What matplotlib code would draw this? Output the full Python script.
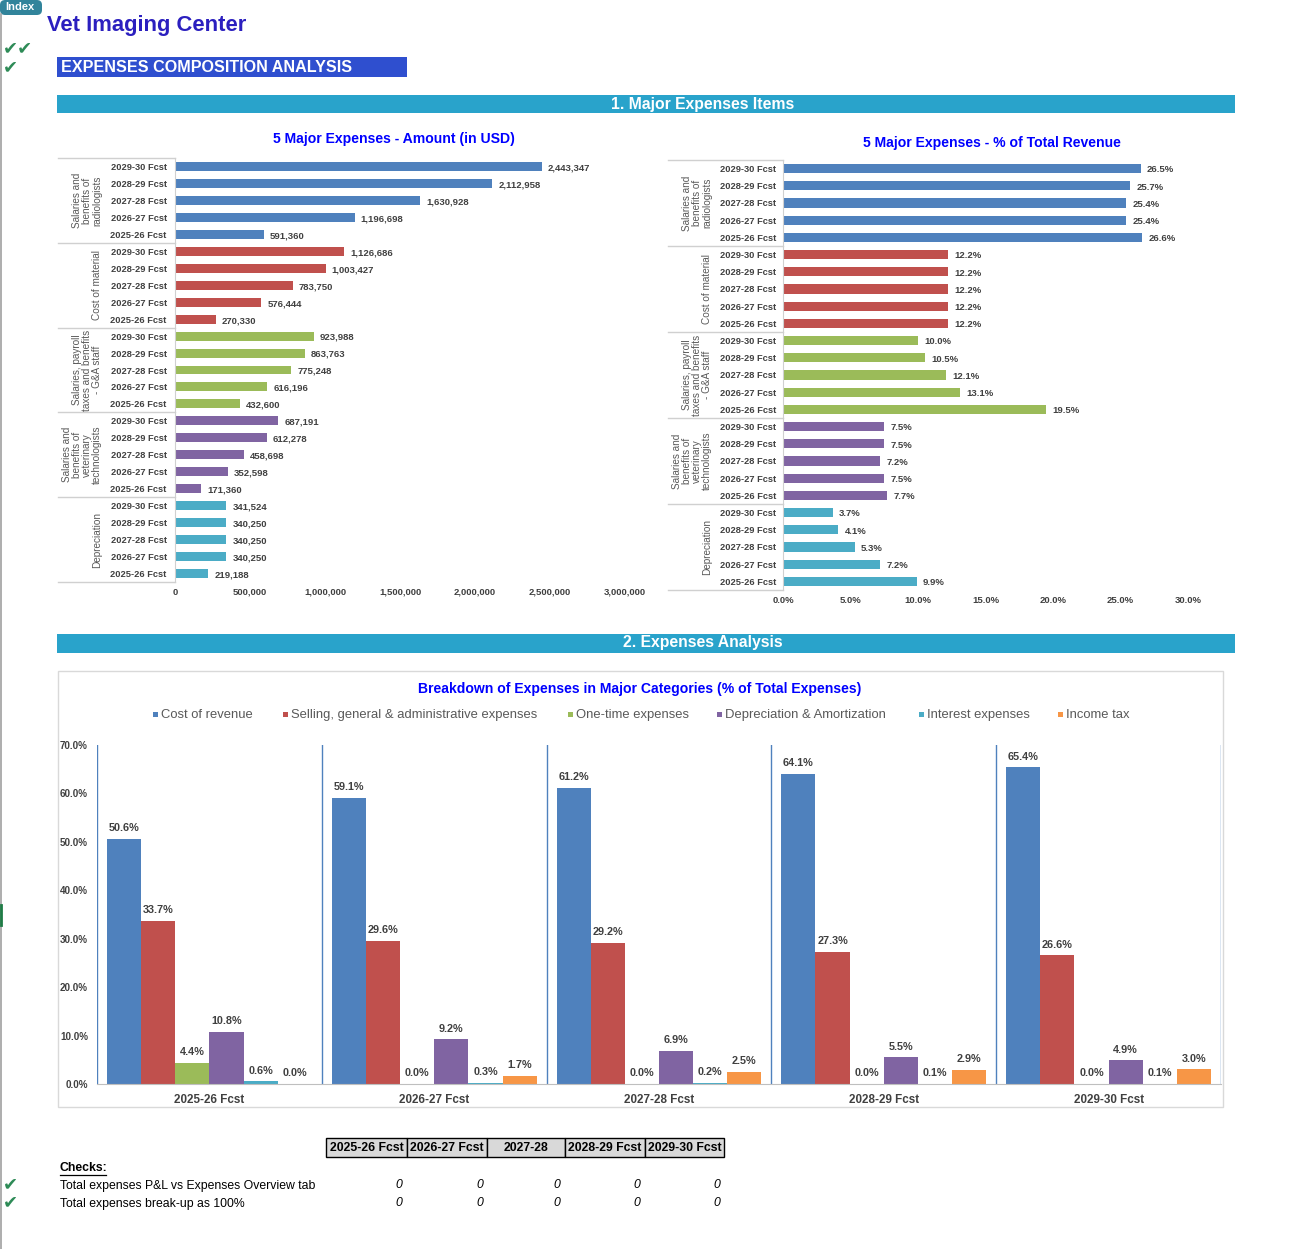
import matplotlib
matplotlib.use("Agg")
import matplotlib.pyplot as plt
from matplotlib.patches import Rectangle, FancyBboxPatch
from matplotlib.lines import Line2D
import matplotlib.transforms as mtransforms

plt.rcParams['font.family'] = ['Liberation Sans', 'DejaVu Sans']

# ---------------- DATA ----------------
years_desc = ["2029-30 Fcst", "2028-29 Fcst", "2027-28 Fcst", "2026-27 Fcst", "2025-26 Fcst"]
groups = ["Salaries and\nbenefits of\nradiologists",
          "Cost of material",
          "Salaries, payroll\ntaxes and benefits\n- G&A staff",
          "Salaries and\nbenefits of\nveterinary\ntechnologists",
          "Depreciation"]
amount_radiologists = [2443347, 2112958, 1630928, 1196698, 591360]
amount_material = [1126686, 1003427, 783750, 576444, 270330]
amount_ga_staff = [923988, 863763, 775248, 616196, 432600]
amount_vet_tech = [687191, 612278, 458698, 352598, 171360]
amount_depreciation = [341524, 340250, 340250, 340250, 219188]

pct_radiologists = [26.5, 25.7, 25.4, 25.4, 26.6]
pct_material = [12.2, 12.2, 12.2, 12.2, 12.2]
pct_ga_staff = [10.0, 10.5, 12.1, 13.1, 19.5]
pct_vet_tech = [7.5, 7.5, 7.2, 7.5, 7.7]
pct_depreciation = [3.7, 4.1, 5.3, 7.2, 9.9]

years_asc = ["2025-26 Fcst", "2026-27 Fcst", "2027-28 Fcst", "2028-29 Fcst", "2029-30 Fcst"]
series_names = ["Cost of revenue", "Selling, general & administrative expenses", "One-time expenses",
                "Depreciation & Amortization", "Interest expenses", "Income tax"]
cost_of_revenue = [50.6, 59.1, 61.2, 64.1, 65.4]
sga = [33.7, 29.6, 29.2, 27.3, 26.6]
one_time = [4.4, 0.0, 0.0, 0.0, 0.0]
dep_amort = [10.8, 9.2, 6.9, 5.5, 4.9]
interest = [0.6, 0.3, 0.2, 0.1, 0.1]
income_tax = [0.0, 1.7, 2.5, 2.9, 3.0]

amount_ticks = [0, 500000, 1000000, 1500000, 2000000, 2500000, 3000000]
pct_ticks = [0, 5, 10, 15, 20, 25, 30]
bar_ticks = [0, 10, 20, 30, 40, 50, 60, 70]

check_headers = ["2025-26 Fcst", "2026-27 Fcst", "2027-28", "2028-29 Fcst", "2029-30 Fcst"]
check_labels = ["Total expenses P&L vs Expenses Overview tab", "Total expenses break-up as 100%"]
check_values = [[0, 0, 0, 0, 0], [0, 0, 0, 0, 0]]

colors = ["#4F81BD", "#C0504D", "#9BBB59", "#8064A2", "#4BACC6", "#F79646"]
TXT = "#404040"

# ---------------- FIGURE ----------------
W, H = 1292, 1249
fig = plt.figure(figsize=(W / 100, H / 100), dpi=100)
fig.patch.set_facecolor("white")


def ax_px(l, t, r, b):
    return fig.add_axes([l / W, 1 - b / H, (r - l) / W, (b - t) / H])


def ftext(x, y, s, **kw):
    return fig.text(x / W, 1 - y / H, s, **kw)


def frect(l, t, r, b, **kw):
    fig.add_artist(Rectangle((l / W, 1 - b / H), (r - l) / W, (b - t) / H,
                             transform=fig.transFigure, **kw))


def fline(x0, y0, x1, y1, **kw):
    fig.add_artist(Line2D([x0 / W, x1 / W], [1 - y0 / H, 1 - y1 / H], transform=fig.transFigure, **kw))


# left border line
fline(1, 14, 1, 1249, color="#A0A0A0", lw=1.2)
fline(0.5, 905, 0.5, 925, color="#1E7B45", lw=2)

# Index button
fig.add_artist(FancyBboxPatch((0, 1 - 15 / H), 42 / W, 15 / H, boxstyle="round,pad=0,rounding_size=0.004",
                              transform=fig.transFigure, facecolor="#31849B", edgecolor="none"))
ftext(20, 7.5, "Index", color="white", fontsize=8, fontweight="bold", ha="center", va="center")

ftext(47, 26, "Vet Imaging Center", color="#2B1FBF", fontsize=15.8, fontweight="bold", ha="left", va="center")

CHECK = "#2E8B57"
CHK = "\u2714"
ftext(3, 48, CHK + CHK, color=CHECK, fontsize=13, ha="left", va="center", family=["DejaVu Sans"])
ftext(3, 67, CHK, color=CHECK, fontsize=13, ha="left", va="center", family=["DejaVu Sans"])

frect(57, 57, 407, 77, facecolor="#2F4FCF", edgecolor="none")
ftext(61, 67.5, "EXPENSES COMPOSITION ANALYSIS", color="white", fontsize=11.6, fontweight="bold",
      ha="left", va="center")

frect(57, 95, 1235, 113, facecolor="#29A3CB", edgecolor="none")
ftext(703, 104, "1. Major Expenses Items", color="white", fontsize=11.3, fontweight="bold", ha="center", va="center")

frect(57, 634, 1235, 653, facecolor="#29A3CB", edgecolor="none")
ftext(703, 643, "2. Expenses Analysis", color="white", fontsize=11.3, fontweight="bold", ha="center", va="center")

ftext(394, 139.5, "5 Major Expenses - Amount (in USD)", color="#0000FF", fontsize=10.1, fontweight="bold",
      ha="center", va="center")
ftext(992, 142.5, "5 Major Expenses - % of Total Revenue", color="#0000FF", fontsize=10.1, fontweight="bold",
      ha="center", va="center")


def hbar_chart(box, series, xmax, xticks, tickfmt, valfmt, group_x, sep_x0, tick_pad):
    l, t, r, b = box
    ax = ax_px(l, t, r, b)
    n = len(series) * len(years_desc)
    ylabels = []
    for g, vals in enumerate(series):
        for j, v in enumerate(vals):
            y = g * 5 + j
            ax.barh(y, v, height=0.53, color=colors[g])
            ax.annotate(valfmt(v), (v, y), xytext=(4.5, -1), textcoords="offset points",
                        ha="left", va="center", fontsize=6.8, fontweight="bold", color=TXT)
            ylabels.append(years_desc[j])
    ax.set_ylim(n - 0.5, -0.5)
    ax.set_xlim(0, xmax)
    ax.set_yticks(range(n))
    ax.set_yticklabels(ylabels, fontsize=6.7, fontweight="bold", color=TXT)
    ax.tick_params(axis="y", length=0, pad=tick_pad)
    ax.set_xticks(xticks)
    ax.set_xticklabels([tickfmt(v) for v in xticks], fontsize=6.8, fontweight="bold", color=TXT)
    ax.tick_params(axis="x", length=0, pad=4)
    for s in ["top", "right", "bottom"]:
        ax.spines[s].set_visible(False)
    ax.spines["left"].set_color("#D0D0D0")
    trans = mtransforms.blended_transform_factory(fig.transFigure, ax.transData)
    for k in range(len(series) + 1):
        ax.add_line(Line2D([sep_x0 / W, l / W], [k * 5 - 0.5] * 2, transform=trans, color="#D0D0D0",
                           lw=1, clip_on=False))
    for g, name in enumerate(groups):
        ax.text(group_x / W, g * 5 + 2, name, transform=trans, rotation=90, ha="right", va="center",
                multialignment="center", fontsize=7.2, color="#595959", linespacing=1.02)
    return ax


hbar_chart((175, 158, 625, 582),
           [amount_radiologists, amount_material, amount_ga_staff, amount_vet_tech, amount_depreciation],
           3000000, amount_ticks, lambda v: f"{v:,.0f}", lambda v: f"{v:,.0f}",
           group_x=102, sep_x0=58, tick_pad=6)

hbar_chart((783, 160, 1188, 590),
           [pct_radiologists, pct_material, pct_ga_staff, pct_vet_tech, pct_depreciation],
           30, pct_ticks, lambda v: f"{v:.1f}%", lambda v: f"{v:.1f}%",
           group_x=712, sep_x0=668, tick_pad=5)

# ---------------- BOTTOM CHART ----------------
frect(58, 671, 1223, 1107, facecolor="none", edgecolor="#D9D9D9", lw=1)
ftext(640, 688.5, "Breakdown of Expenses in Major Categories (% of Total Expenses)", color="#0000FF",
      fontsize=10.1, fontweight="bold", ha="center", va="center")

leg_x = [155, 285, 570, 719, 921, 1060]
for x, name, c in zip(leg_x, series_names, colors):
    frect(x - 2.5, 712, x + 2.5, 717, facecolor=c, edgecolor="none")
    ftext(x + 6, 715, name, color="#595959", fontsize=9.4, ha="left", va="center")

ax = ax_px(97, 745, 1221, 1084)
all_series = [cost_of_revenue, sga, one_time, dep_amort, interest, income_tax]
ns = len(all_series)
gap = 0.58
bw = 1 / (ns + gap)
off = gap * bw / 2
for k, vals in enumerate(all_series):
    xs = [i + off + k * bw for i in range(len(vals))]
    ax.bar(xs, vals, width=bw, align="edge", color=colors[k])
    for x, v in zip(xs, vals):
        ax.annotate(f"{v:.1f}%", (x + bw / 2, v), xytext=(0, 4), textcoords="offset points",
                    ha="center", va="bottom", fontsize=7.8, fontweight="bold", color=TXT)
for i in range(len(years_asc) + 1):
    ax.axvline(i, color="#4F81BD", lw=1)
ax.set_xlim(0, len(years_asc))
ax.set_ylim(0, 70)
ax.set_yticks(bar_ticks)
ax.set_yticklabels([f"{v:.1f}%" for v in bar_ticks], fontsize=7.1, fontweight="bold", color=TXT)
ax.set_xticks([i + 0.5 for i in range(len(years_asc))])
ax.set_xticklabels(years_asc, fontsize=8.4, fontweight="bold", color=TXT)
ax.tick_params(axis="both", length=0)
ax.tick_params(axis="y", pad=6.5)
ax.tick_params(axis="x", pad=7)
for s in ["top", "right", "left"]:
    ax.spines[s].set_visible(False)
ax.spines["bottom"].set_color("#BFBFBF")

# ---------------- CHECKS TABLE ----------------
cells = [326, 407, 487, 565, 645, 724]
for i, h in enumerate(check_headers):
    frect(cells[i], 1138, cells[i + 1], 1157, facecolor="#D9D9D9", edgecolor="black", lw=1)
    ftext((cells[i] + cells[i + 1]) / 2, 1148, h, fontsize=8.8, fontweight="bold", ha="center",
          va="center", color="black")

ftext(60, 1168, "Checks:", fontsize=8.8, fontweight="bold", ha="left", va="center", color="black")
fline(60, 1175, 106, 1175, color="black", lw=0.9)
row_y = [1185.5, 1203.5]
val_x = [402, 483, 560, 640, 720]
for y, lab, vals in zip(row_y, check_labels, check_values):
    ftext(3, y - 1, CHK, color=CHECK, fontsize=13, ha="left", va="center", family=["DejaVu Sans"])
    ftext(60, y, lab, fontsize=8.8, ha="left", va="center", color="black")
    for x, v in zip(val_x, vals):
        ftext(x, y, f"{v}", fontsize=8.8, style="italic", ha="right", va="center", color="black")

fig.savefig("out.png", dpi=100, facecolor="white")
